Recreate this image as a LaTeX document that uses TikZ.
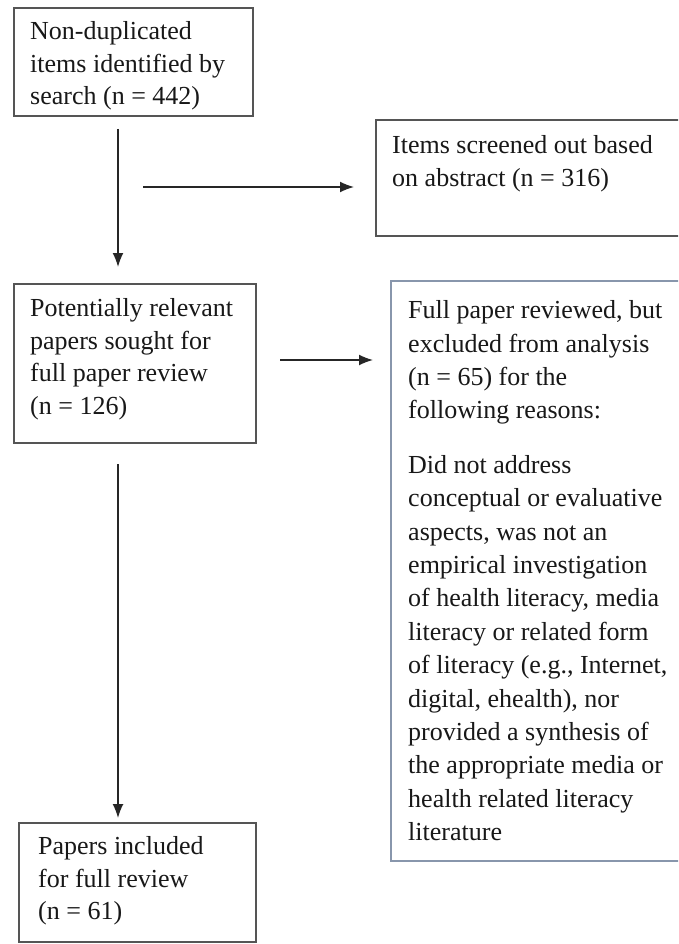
\documentclass[tikz,border=0pt]{standalone}
\usepackage{fontspec}
\setmainfont{Liberation Serif}
\usetikzlibrary{arrows.meta}
\definecolor{boxgray}{HTML}{555555}
\definecolor{boxblue}{HTML}{8896AC}
\definecolor{txt}{HTML}{181818}
\begin{document}
\begin{tikzpicture}[x=1pt,y=-1pt,
  box/.style={draw=boxgray, line width=2pt, rectangle, inner sep=0pt, anchor=north west},
  lbl/.style={anchor=north west, inner sep=0pt, align=left, text=txt, font=\fontsize{26}{32.5}\selectfont},
  arr/.style={draw=black!85, line width=1.6pt, -{Latex[length=14pt,width=11pt]}}]
\useasboundingbox (0,0) rectangle (678,944);
\clip (0,0) rectangle (678,944);
\fill[white] (0,0) rectangle (678,944);
% boxes
\node[box, minimum width=239pt, minimum height=108pt] (b1) at (13,7) {};
\node[box, minimum width=315pt, minimum height=116pt] (b2) at (375,119) {};
\node[box, minimum width=242pt, minimum height=159pt] (b3) at (13,283) {};
\node[box, draw=boxblue, minimum width=300pt, minimum height=580pt] (b4) at (390,280) {};
\node[box, minimum width=237pt, minimum height=119pt] (b5) at (18,822) {};
% texts
\node[lbl] (t1) at (30,21.5) {Non-duplicated\\items identified by\\search (n = 442)};
\node[lbl] (t2) at (392,135.5) {Items screened out based\\on abstract (n = 316)};
\node[lbl] (t3) at (30,298.5) {Potentially relevant\\papers sought for\\full paper review\\(n = 126)};
\node[lbl, font=\fontsize{26}{33.4}\selectfont] (t4) at (408,300.5) {Full paper reviewed, but\\excluded from analysis\\(n = 65) for the\\following reasons:\\[21pt]Did not address\\conceptual or evaluative\\aspects, was not an\\empirical investigation\\of health literacy, media\\literacy or related form\\of literacy (e.g., Internet,\\digital, ehealth), nor\\provided a synthesis of\\the appropriate media or\\health related literacy\\literature};
\node[lbl] (t5) at (38,836.5) {Papers included\\for full review\\(n = 61)};
% arrows
\coordinate (x1) at (118,0);
\coordinate (a2s) at (143,187);
\coordinate (y3) at (0,360);
\draw[arr, shorten <=12pt, shorten >=16pt] (x1 |- b1.south) -- (x1 |- b3.north);
\draw[arr, shorten >=21pt] (a2s) -- (a2s -| b2.west);
\draw[arr, shorten <=23pt, shorten >=17pt] (y3 -| b3.east) -- (y3 -| b4.west);
\draw[arr, shorten <=20pt, shorten >=4pt] (x1 |- b3.south) -- (x1 |- b5.north);
\end{tikzpicture}
\end{document}
